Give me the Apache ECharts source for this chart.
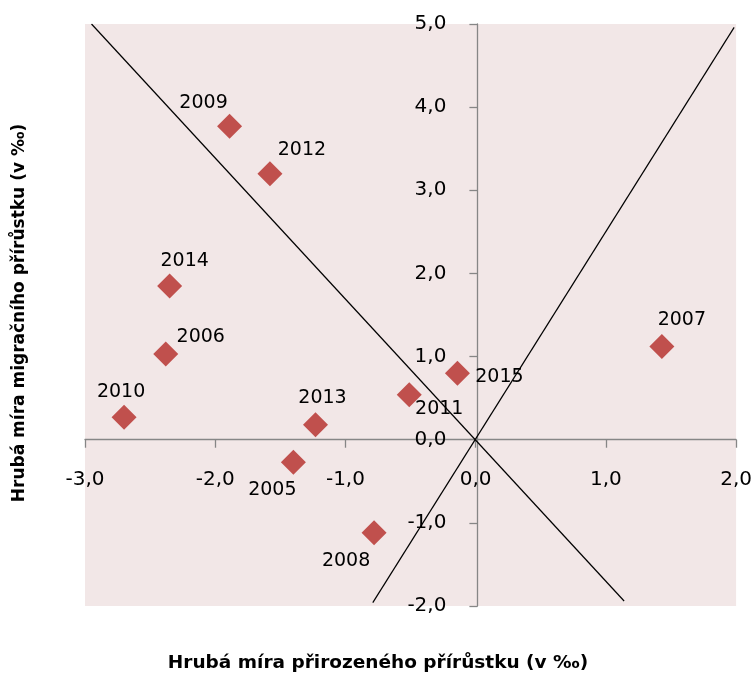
<!DOCTYPE html>
<html>
<head>
<meta charset="utf-8">
<script src="https://cdn.jsdelivr.net/npm/echarts@6/dist/echarts.min.js"></script>
<style>
  html, body { margin: 0; padding: 0; background: #fff; }
  #chart { width: 755px; height: 675px; }
</style>
</head>
<body>
<div id="chart"></div>
<script>
// roky a hodnoty (přirozený přírůstek, migrační přírůstek)
var years = ['2005', '2006', '2007', '2008', '2009', '2010', '2011', '2012', '2013', '2014', '2015'];
var natural = [-1.40, -2.38, 1.43, -0.78, -1.89, -2.70, -0.51, -1.58, -1.23, -2.35, -0.14];
var migration = [-0.27, 1.03, 1.12, -1.12, 3.77, 0.27, 0.54, 3.20, 0.18, 1.85, 0.80];
// posun popisků [dx, dy]
var labelOffsets = [[-21, 28], [35, -17], [20, -27], [-28, 28], [-26, -23], [-3, -25], [30, 14], [32, -24], [7, -27], [15, -25], [42, 4]];

// pomocné přímky
var lineA = [[-2.95, 5.0], [1.14, -1.94]];
var lineB = [[-0.79, -1.96], [1.985, 4.96]];

var xTitle = 'Hrubá míra přirozeného přírůstku (v ‰)';
var yTitle = 'Hrubá míra migračního přírůstku (v ‰)';

var chart = echarts.init(document.getElementById('chart'));

function fmt(v) {
  return v.toFixed(1).replace('.', ',');
}

var points = years.map(function (y, i) {
  return {
    value: [natural[i], migration[i]],
    label: { offset: labelOffsets[i] }
  };
});

// osy se kříží v nule -> posun od okraje gridu
var gridW = 654, gridH = 582;
var xOffset = -(gridH * 2 / 7);
var yOffset = -(gridW * 3 / 5);

chart.setOption({
  animation: false,
  grid: {
    left: 85,
    top: 24,
    width: gridW,
    height: gridH,
    show: true,
    backgroundColor: '#f2e7e7',
    borderWidth: 0
  },
  xAxis: {
    type: 'value',
    min: -3,
    max: 2,
    interval: 1,
    position: 'bottom',
    offset: xOffset,
    axisLine: { show: true, onZero: false, lineStyle: { color: '#868686', width: 1.3 } },
    axisTick: { show: true, length: 8, lineStyle: { color: '#868686', width: 1.3 } },
    splitLine: { show: false },
    axisLabel: {
      formatter: fmt,
      margin: 30,
      color: '#000',
      fontFamily: 'DejaVu Sans',
      fontSize: 20
    }
  },
  yAxis: {
    type: 'value',
    min: -2,
    max: 5,
    interval: 1,
    position: 'left',
    offset: yOffset,
    axisLine: { show: true, onZero: false, lineStyle: { color: '#868686', width: 1.3 } },
    axisTick: { show: true, length: 8, lineStyle: { color: '#868686', width: 1.3 } },
    splitLine: { show: false },
    axisLabel: {
      formatter: fmt,
      margin: 31,
      color: '#000',
      fontFamily: 'DejaVu Sans',
      fontSize: 20
    }
  },
  series: [
    {
      type: 'line',
      data: lineA,
      symbol: 'none',
      lineStyle: { color: '#000', width: 1.2 },
      z: 1
    },
    {
      type: 'line',
      data: lineB,
      symbol: 'none',
      lineStyle: { color: '#000', width: 1.2 },
      z: 1
    },
    {
      type: 'scatter',
      data: points,
      symbol: 'diamond',
      symbolSize: 25,
      itemStyle: { color: '#c0504d', opacity: 1 },
      z: 3,
      label: {
        show: true,
        position: 'inside',
        formatter: function (p) { return years[p.dataIndex]; },
        color: '#000',
        fontFamily: 'DejaVu Sans',
        fontSize: 19
      }
    }
  ],
  graphic: [
    {
      type: 'text',
      x: 378,
      y: 663,
      style: {
        text: xTitle,
        fontFamily: 'DejaVu Sans',
        fontWeight: 'bold',
        fontSize: 18.5,
        fill: '#000',
        align: 'center',
        verticalAlign: 'middle'
      }
    },
    {
      type: 'text',
      x: 20,
      y: 313,
      rotation: Math.PI / 2,
      style: {
        text: yTitle,
        fontFamily: 'DejaVu Sans',
        fontWeight: 'bold',
        fontSize: 17,
        fill: '#000',
        align: 'center',
        verticalAlign: 'middle'
      }
    }
  ]
});
</script>
</body>
</html>
